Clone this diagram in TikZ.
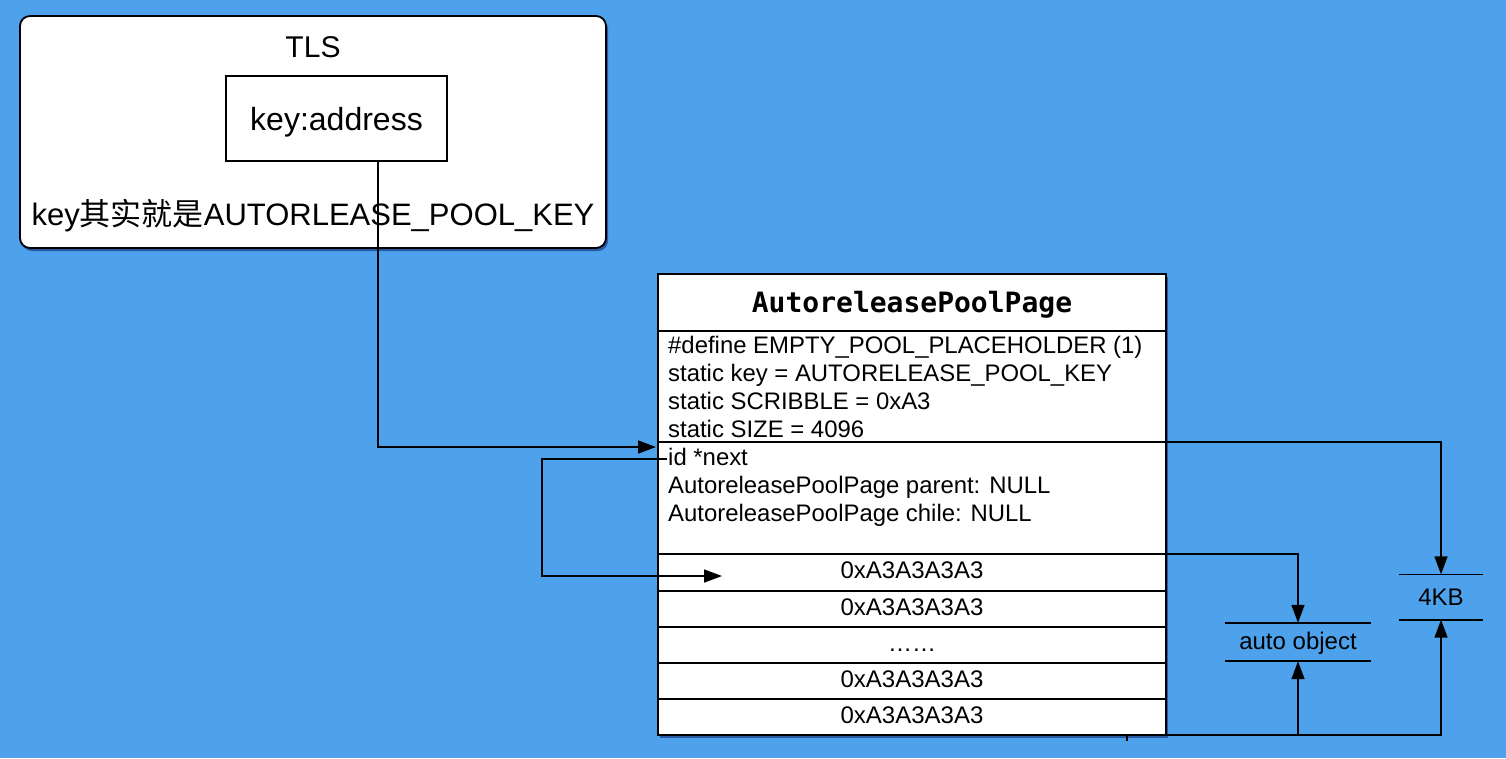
\documentclass[tikz,border=0pt]{standalone}
\usepackage{fontspec}
\setmainfont{Liberation Sans}
\setmonofont{DejaVu Sans Mono}
\newfontfamily\cjk{Noto Sans CJK SC}
\usetikzlibrary{arrows.meta,shadows}
\definecolor{bgblue}{RGB}{77,162,235}
\begin{document}
\begin{tikzpicture}[x=1pt,y=-1pt,
  box/.style={draw=black,line width=1.8pt,fill=white,inner sep=0pt,outer sep=0pt},
  shad/.style={drop shadow={shadow xshift=2pt,shadow yshift=-3pt,opacity=0.45,fill=black!70!blue}},
  cell/.style={box,minimum width=508pt,font=\fontsize{24}{28}\selectfont,text height=17pt,text depth=5pt},
  attr/.style={anchor=base west,inner sep=0pt,font=\fontsize{23.9}{28}\selectfont},
  conn/.style={draw=black,line width=1.6pt},
  arr/.style={conn,-{Triangle[length=18pt,width=13pt]}},
  mark/.style={inner sep=0pt,minimum height=#1,font=\fontsize{24}{28}\selectfont},
]
\fill[bgblue] (0,0) rectangle (1506,758);
\useasboundingbox (0,0) rectangle (1506,758);

% TLS box
\node[box,rounded corners=10pt,shad,minimum width=586pt,minimum height=232pt] (tls) at (313,132) {};
\node[anchor=base,inner sep=0pt,font=\fontsize{30}{34}\selectfont] (tlslabel) at (313,57) {TLS};
\node[box,minimum width=221pt,minimum height=85pt] (keybox) at (336.5,118.5) {};
\node[anchor=base,inner sep=0pt,font=\fontsize{32}{36}\selectfont] (keytext) at (336.5,130) {key:address};
\node[anchor=base,inner sep=0pt,font=\fontsize{31}{36}\selectfont] (keynote) at (313,225) {key{\cjk 其实就是}AUTORLEASE\_POOL\_KEY};

% AutoreleasePoolPage
\node[fill=white,shad,inner sep=0pt,minimum width=508pt,minimum height=461pt] (page) at (912,504.5) {};
\node[box,minimum width=508pt,minimum height=57pt] (header) at (912,302.5) {};
\node[anchor=base,inner sep=0pt,font=\fontsize{28}{32}\ttfamily\bfseries] (title) at (912,312) {AutoreleasePoolPage};
\node[box,minimum width=508pt,minimum height=111pt] (sec1) at (912,386.5) {};
\node[box,minimum width=508pt,minimum height=112pt] (sec2) at (912,498) {};
\node[cell,minimum height=37pt] (r1) at (912,572.5) {0xA3A3A3A3};
\node[cell,minimum height=36pt] (r2) at (912,609) {0xA3A3A3A3};
\node[cell,minimum height=36pt] (r3) at (912,645) {……};
\node[cell,minimum height=36pt] (r4) at (912,681) {0xA3A3A3A3};
\node[cell,minimum height=36pt] (r5) at (912,717) {0xA3A3A3A3};

\node[attr] (a1) at (668,353) {\#define EMPTY\_POOL\_PLACEHOLDER (1)};
\node[attr] (a2) at (668,381) {static key = AUTORELEASE\_POOL\_KEY};
\node[attr] (a3) at (668,409) {static SCRIBBLE = 0xA3};
\node[attr] (a4) at (668,437) {static SIZE = 4096};
\node[attr] (b1) at (668,465) {id *next};
\node[attr] (b2) at (668,493) {AutoreleasePoolPage parent: NULL};
\node[attr] (b3) at (668,521) {AutoreleasePoolPage chile: NULL};

% side markers
\node[mark=45pt,minimum width=83pt] (kb) at (1441,597) {4KB};
\draw[conn] (kb.north west) -- (kb.north east) (kb.south west) -- (kb.south east);
\node[mark=38pt,minimum width=146pt,text height=17pt,text depth=2pt] (ao) at (1298,642) {auto object};
\draw[conn] (ao.north west) -- (ao.north east) (ao.south west) -- (ao.south east);

% connectors
\coordinate (k1) at (378,447);
\coordinate (k2) at (656,447);
\draw[arr] (keybox.south -| k1) |- (k2);
\coordinate (idl) at (667,459);
\coordinate (n1) at (542,459);
\coordinate (n2) at (722,576);
\draw[arr] (idl) -- (n1) |- (n2);
\draw[arr] (sec1.south east) -| (kb.north);
\draw[arr] (sec2.south east) -| (ao.north);
\coordinate (bl) at (1127,741);
\draw[arr] (bl) |- (kb.south |- r5.south) -- (kb.south);
\draw[arr] (ao.south |- r5.south) -- (ao.south);
\end{tikzpicture}
\end{document}
